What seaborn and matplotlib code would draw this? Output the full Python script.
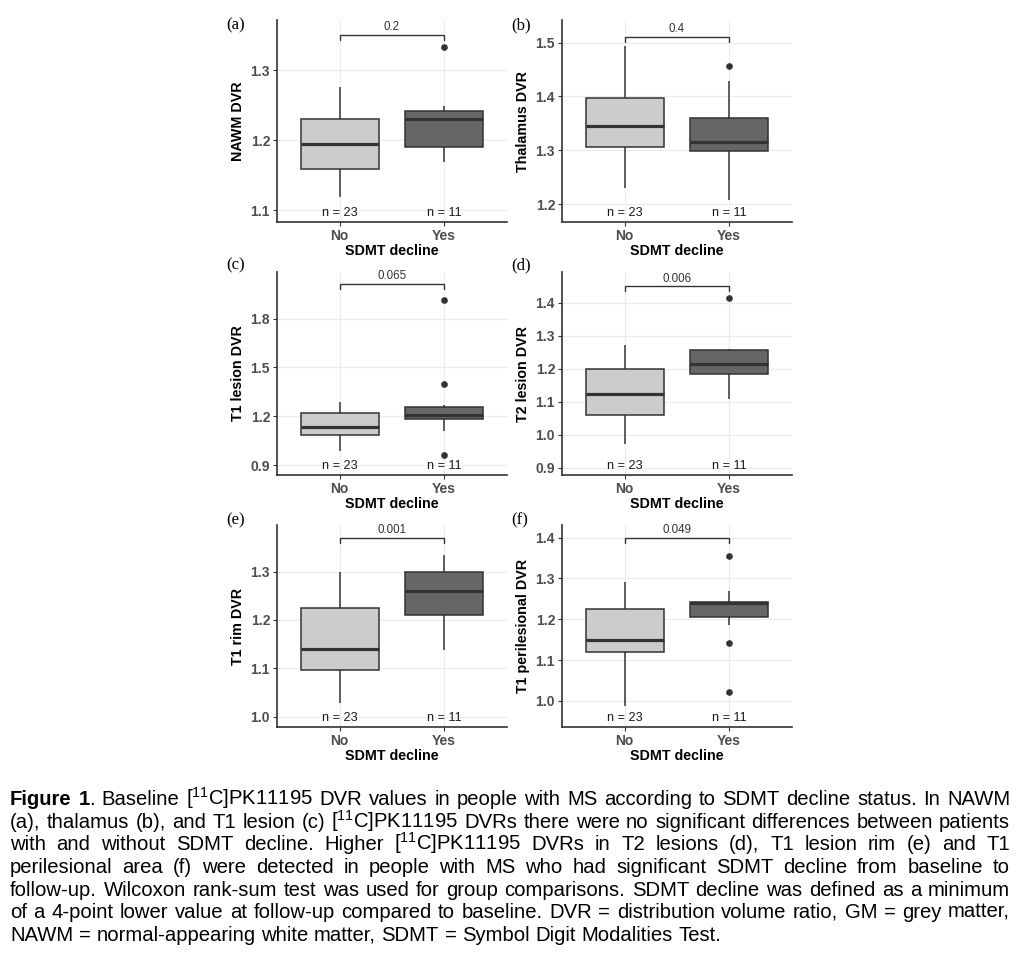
import re
import pandas as pd
import matplotlib
matplotlib.use("Agg")
import matplotlib.pyplot as plt
import matplotlib.transforms as mtransforms
import seaborn as sns

# categories and labels
groups = ["No", "Yes"]
n_per_group = [23, 11]
x_title = "SDMT decline"
panel_tags = ["(a)", "(b)", "(c)", "(d)", "(e)", "(f)"]
y_titles = ["NAWM DVR", "Thalamus DVR", "T1 lesion DVR", "T2 lesion DVR",
            "T1 rim DVR", "T1 perilesional DVR"]
p_labels = ["0.2", "0.4", "0.065", "0.006", "0.001", "0.049"]

# box summaries: [lower whisker, Q1, median, Q3, upper whisker]
nawm_no = [1.119, 1.159, 1.195, 1.230, 1.276]
nawm_yes = [1.169, 1.191, 1.231, 1.242, 1.249]
nawm_out = [1.334]
thal_no = [1.230, 1.306, 1.346, 1.398, 1.494]
thal_yes = [1.208, 1.298, 1.315, 1.360, 1.428]
thal_out = [1.457]
t1les_no = [0.988, 1.083, 1.131, 1.218, 1.286]
t1les_yes = [1.112, 1.180, 1.208, 1.259, 1.272]
t1les_out = [0.961, 1.400, 1.912]
t2les_no = [0.973, 1.061, 1.124, 1.199, 1.273]
t2les_yes = [1.107, 1.185, 1.213, 1.256, 1.260]
t2les_out = [1.415]
rim_no = [1.028, 1.097, 1.139, 1.224, 1.298]
rim_yes = [1.137, 1.210, 1.260, 1.300, 1.334]
rim_out = []
peri_no = [0.988, 1.119, 1.148, 1.226, 1.292]
peri_yes = [1.185, 1.205, 1.241, 1.243, 1.269]
peri_out = [1.021, 1.143, 1.354]

# comparison bracket heights and y ticks
bracket_y = [1.351, 1.511, 2.015, 1.450, 1.370, 1.400]
y_ticks = [[1.1, 1.2, 1.3], [1.2, 1.3, 1.4, 1.5], [0.9, 1.2, 1.5, 1.8],
           [0.9, 1.0, 1.1, 1.2, 1.3, 1.4], [1.0, 1.1, 1.2, 1.3],
           [1.0, 1.1, 1.2, 1.3, 1.4]]

caption_lines = [
    "*Figure* *1*. Baseline [$^{\\mathregular{11}}$C]PK11195 DVR values in people with MS according to SDMT decline status. In NAWM",
    "(a), thalamus (b), and T1 lesion (c) [$^{\\mathregular{11}}$C]PK11195 DVRs there were no significant differences between patients",
    "with and without SDMT decline. Higher [$^{\\mathregular{11}}$C]PK11195 DVRs in T2 lesions (d), T1 lesion rim (e) and T1",
    "perilesional area (f) were detected in people with MS who had significant SDMT decline from baseline to",
    "follow-up. Wilcoxon rank-sum test was used for group comparisons. SDMT decline was defined as a minimum",
    "of a 4-point lower value at follow-up compared to baseline. DVR = distribution volume ratio, GM = grey matter,",
    "NAWM = normal-appearing white matter, SDMT = Symbol Digit Modalities Test.",
]

panels = [
    (nawm_no, nawm_yes, nawm_out),
    (thal_no, thal_yes, thal_out),
    (t1les_no, t1les_yes, t1les_out),
    (t2les_no, t2les_yes, t2les_out),
    (rim_no, rim_yes, rim_out),
    (peri_no, peri_yes, peri_out),
]

sns.set_theme(style="white")
plt.rcParams["font.family"] = ["Liberation Sans", "DejaVu Sans"]

W, H = 1027, 967
fig = plt.figure(figsize=(W / 100, H / 100), dpi=100)

# axes placement in pixels: left, top, right, bottom
boxes_px = [(277, 20, 507, 222), (562, 20, 792, 222),
            (277, 272, 507, 475), (562, 272, 792, 475),
            (277, 525, 507, 727), (562, 525, 792, 727)]
y_lims = [(1.083, 1.372), (1.167, 1.542), (0.839, 2.086),
          (0.878, 1.493), (0.979, 1.396), (0.936, 1.431)]
tag_px = [(226, 25), (511, 25), (226, 265), (511, 265), (226, 520), (511, 520)]

box_colors = {"No": "#cccccc", "Yes": "#666666"}
dark = "#333333"

for i, (vals_no, vals_yes, outs) in enumerate(panels):
    l, t, r, b = boxes_px[i]
    ax = fig.add_axes([l / W, (H - b) / H, (r - l) / W, (b - t) / H])
    df = pd.DataFrame({"group": [groups[0]] * len(vals_no) + [groups[1]] * len(vals_yes),
                       "dvr": vals_no + vals_yes})
    sns.boxplot(data=df, x="group", y="dvr", hue="group", order=groups, hue_order=groups,
                palette=box_colors, saturation=1, width=0.75, whis=(0, 100),
                showfliers=False, showcaps=False, linecolor=dark, linewidth=1.1,
                medianprops={"linewidth": 2.3, "color": dark},
                legend=False, ax=ax)
    if outs:
        sns.stripplot(x=[groups[1]] * len(outs), y=outs, order=groups, jitter=False,
                      color=dark, size=4.8, linewidth=0, ax=ax)

    ax.set_xlim(-0.6, 1.6)
    ax.set_ylim(*y_lims[i])
    ax.set_yticks(y_ticks[i])
    ax.set_yticklabels([f"{v:.1f}" for v in y_ticks[i]])
    ax.grid(True, color="#ebebeb", linewidth=0.8)
    ax.set_axisbelow(True)
    for side in ["top", "right"]:
        ax.spines[side].set_visible(False)
    for side in ["left", "bottom"]:
        ax.spines[side].set_color(dark)
        ax.spines[side].set_linewidth(1.2)
    ax.tick_params(axis="both", length=3, width=0.8, color=dark, labelsize=10,
                   labelcolor="#4d4d4d", pad=2, left=True, bottom=True)
    for lbl in ax.get_xticklabels() + ax.get_yticklabels():
        lbl.set_fontweight("bold")
    ax.set_xlabel(x_title, fontsize=10.3, fontweight="bold", color="black", labelpad=1)
    ax.set_ylabel(y_titles[i], fontsize=10.3, fontweight="bold", color="black", labelpad=4)

    # sample sizes along the bottom
    trans = mtransforms.blended_transform_factory(ax.transData, ax.transAxes)
    for k, n in enumerate(n_per_group):
        ax.text(k, 0.044, f"n = {n}", transform=trans, ha="center", va="center",
                fontsize=9.1, color="#1a1a1a")

    # comparison bracket with p value
    y0, y1 = y_lims[i]
    d = 0.026 * (y1 - y0)
    yb = bracket_y[i]
    ax.plot([0, 0, 1, 1], [yb - d, yb, yb, yb - d], color=dark, linewidth=1.0,
            solid_joinstyle="miter", clip_on=False)
    ax.annotate(p_labels[i], xy=(0.5, yb), xytext=(0, 1), textcoords="offset points",
                ha="center", va="bottom", fontsize=8.3, color="#333333")

    tx, ty = tag_px[i]
    fig.text(tx / W, (H - ty) / H, panel_tags[i], ha="left", va="center",
             fontsize=12, family="Liberation Serif", color="black")

# caption, justified like the original figure
renderer = fig.canvas.get_renderer()


def seg_width(s, weight, size):
    tt = fig.text(0, 0, s, fontsize=size, fontweight=weight)
    w = tt.get_window_extent(renderer=renderer).width
    tt.remove()
    return w


def split_word(word):
    segs = []
    for m in re.finditer(r"\*([^*]+)\*|([^*]+)", word):
        if m.group(1) is not None:
            segs.append((m.group(1), "bold"))
        else:
            segs.append((m.group(2), "normal"))
    return segs


def natural_width(line, size):
    words = [split_word(w) for w in line.split(" ")]
    sp = seg_width("a a", "normal", size) - seg_width("aa", "normal", size)
    return sum(seg_width(s, wt, size) for segs in words for s, wt in segs) + sp * (len(words) - 1)


cap_left, cap_right = 10, 1010
last_line_end = 721
cap_size = round(10 * (last_line_end - cap_left) / natural_width(caption_lines[-1], 10), 1)
space_w = seg_width("a a", "normal", cap_size) - seg_width("aa", "normal", cap_size)
base0, base_last = 805, 941
step = (base_last - base0) / (len(caption_lines) - 1)

for li, line in enumerate(caption_lines):
    words = [split_word(w) for w in line.split(" ")]
    widths = [[seg_width(s, wt, cap_size) for s, wt in segs] for segs in words]
    total = sum(sum(ws) for ws in widths)
    last = li == len(caption_lines) - 1
    gap = space_w if last else (cap_right - cap_left - total) / (len(words) - 1)
    x = cap_left
    yb = round(base0 + li * step)
    for segs, ws in zip(words, widths):
        for (s, wt), w in zip(segs, ws):
            fig.text(x / W, (H - yb) / H, s, fontsize=cap_size, fontweight=wt,
                     ha="left", va="baseline", color="black")
            x += w
        x += gap

fig.savefig("out.png", dpi=100)
